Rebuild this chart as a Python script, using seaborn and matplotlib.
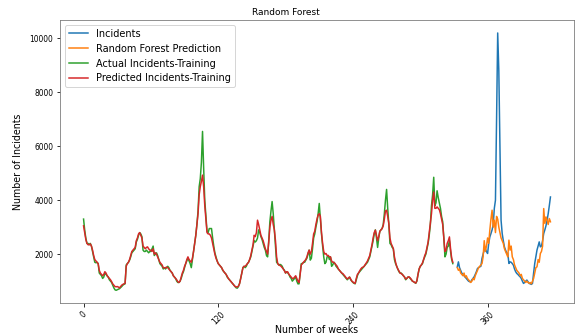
import numpy as np
import matplotlib
matplotlib.use("Agg")
import matplotlib.pyplot as plt
import seaborn as sns

# weekly incident counts
train_start = 0
test_start = 333

actual_train = [
    3300, 2900, 2600, 2400, 2400, 2350, 2400, 2300, 2100, 1900,
    1700, 1680, 1700, 1650, 1300, 1250, 1200, 1100, 1150, 1300,
    1250, 1200, 1150, 1050, 1000, 950, 850, 750, 680, 660,
    680, 700, 720, 760, 800, 850, 880, 900, 1600, 1650,
    1700, 1780, 1900, 2050, 2100, 2150, 2200, 2450, 2550, 2700,
    2800, 2750, 2650, 2150, 2100, 2100, 2150, 2100, 2050, 2100,
    2100, 2200, 2300, 1950, 2000, 2050, 1950, 1800, 1650, 1600,
    1550, 1450, 1500, 1450, 1500, 1550, 1500, 1400, 1350, 1300,
    1200, 1150, 1100, 1000, 950, 950, 1000, 1100, 1250, 1350,
    1500, 1650, 1750, 1850, 1750, 1650, 1500, 1800, 2100, 2400,
    2700, 3100, 3600, 4500, 4800, 5400, 6550, 5200, 4000, 3400,
    2850, 2800, 2950, 2950, 2950, 2600, 2300, 2050, 1900, 1750,
    1650, 1600, 1550, 1500, 1400, 1350, 1300, 1250, 1150, 1100,
    1050, 1000, 950, 900, 850, 800, 750, 740, 800, 920,
    1100, 1300, 1500, 1550, 1500, 1550, 1650, 1700, 1800, 1900,
    2100, 2300, 2500, 2450, 2500, 2600, 2900, 2800, 2650, 2550,
    2400, 2250, 2150, 1950, 1900, 2500, 3200, 3600, 3950, 3500,
    2900, 2300, 1700, 1650, 1600, 1620, 1600, 1550, 1450, 1400,
    1300, 1350, 1300, 1250, 1150, 1100, 1000, 1050, 1100, 1150,
    1000, 900, 900, 1300, 1650, 1650, 1700, 1700, 1780, 1850,
    2000, 2150, 1780, 1850, 2200, 2600, 2750, 3000, 3200, 3500,
    3880, 3300, 2750, 2300, 1900, 1650, 1700, 1900, 1950, 1800,
    1900, 1550, 1600, 1700, 1650, 1550, 1500, 1450, 1400, 1350,
    1300, 1250, 1200, 1150, 1100, 1050, 1100, 1150, 1050, 1000,
    950, 920, 900, 1050, 1200, 1300, 1350, 1400, 1450, 1500,
    1550, 1600, 1650, 1700, 1800, 1900, 2100, 2300, 2500, 2750,
    2900, 2600, 2250, 2600, 2850, 2900, 2950, 3100, 3500, 4000,
    4400, 3700, 3100, 2400, 2350, 2250, 2200, 1800, 1650, 1550,
    1450, 1350, 1300, 1300, 1250, 1200, 1150, 1050, 1100, 1150,
    1150, 1100, 1050, 1000, 980, 950, 920, 1000, 1250, 1450,
    1550, 1600, 1650, 1800, 1900, 2000, 2200, 2400, 2700, 3100,
    3800, 4200, 4850, 3800, 3900, 4350, 4100, 3900, 3700, 3400,
    3200, 2600, 1900, 2000, 2250, 2300, 2500, 2100, 1800, 1650,
]

predicted_train = [
    3050, 2800, 2550, 2400, 2350, 2350, 2380, 2300, 2150, 1950,
    1800, 1750, 1700, 1650, 1400, 1300, 1250, 1200, 1250, 1350,
    1300, 1200, 1150, 1100, 1050, 980, 900, 850, 800, 790,
    800, 780, 750, 800, 850, 880, 900, 920, 1550, 1650,
    1700, 1800, 1950, 2100, 2150, 2200, 2250, 2500, 2600, 2750,
    2800, 2700, 2600, 2300, 2250, 2200, 2250, 2270, 2200, 2150,
    2150, 2100, 2200, 2000, 2050, 2000, 1900, 1800, 1700, 1650,
    1600, 1500, 1480, 1500, 1520, 1500, 1450, 1400, 1350, 1300,
    1200, 1150, 1100, 1050, 980, 950, 1000, 1150, 1300, 1400,
    1550, 1650, 1800, 1900, 1800, 1750, 1700, 1850, 2100, 2400,
    2700, 3100, 3500, 4200, 4500, 4700, 4930, 4500, 3800, 3300,
    2800, 2750, 2750, 2700, 2600, 2400, 2200, 2000, 1850, 1750,
    1650, 1600, 1550, 1500, 1420, 1350, 1300, 1250, 1180, 1100,
    1050, 1000, 950, 900, 850, 800, 790, 780, 820, 900,
    1100, 1300, 1500, 1550, 1550, 1600, 1650, 1700, 1800, 1950,
    2150, 2350, 2700, 2650, 2800, 3260, 3100, 2900, 2700, 2600,
    2500, 2350, 2200, 2100, 2000, 2450, 3000, 3260, 3400, 3100,
    2900, 2500, 1900, 1650, 1600, 1580, 1550, 1500, 1450, 1380,
    1300, 1350, 1340, 1250, 1200, 1150, 1100, 1100, 1150, 1200,
    1100, 1000, 950, 1250, 1600, 1650, 1700, 1750, 1800, 1900,
    2050, 2150, 2000, 2100, 2400, 2750, 2850, 3100, 3300, 3450,
    3500, 3400, 2800, 2400, 2100, 2000, 2025, 1950, 1950, 1900,
    1900, 1750, 1700, 1700, 1650, 1600, 1550, 1450, 1400, 1350,
    1300, 1280, 1230, 1180, 1120, 1080, 1120, 1150, 1080, 1000,
    970, 930, 920, 1100, 1250, 1300, 1380, 1450, 1500, 1520,
    1550, 1620, 1680, 1750, 1850, 1950, 2150, 2350, 2600, 2800,
    2890, 2700, 2500, 2650, 2850, 2900, 2950, 3050, 3300, 3600,
    3630, 3400, 3140, 2600, 2400, 2300, 2210, 1900, 1700, 1550,
    1450, 1380, 1300, 1280, 1250, 1200, 1150, 1080, 1100, 1150,
    1160, 1120, 1070, 1000, 980, 950, 930, 1020, 1250, 1450,
    1550, 1600, 1680, 1800, 1950, 2050, 2250, 2450, 2800, 3140,
    3500, 4000, 4300, 3700, 3700, 3750, 3700, 3650, 3500, 3300,
    3100, 2600, 2100, 2150, 2400, 2500, 2640, 2200, 1850, 1700,
]

incidents_test = [
    1530, 1715, 1500, 1400, 1300, 1250, 1200, 1150, 1100, 1050,
    1000, 980, 975, 1050, 1100, 1160, 1250, 1350, 1470, 1500,
    1530, 1550, 1840, 2000, 2150, 2200, 2100, 2025, 2400, 2640,
    2765, 2900, 3100, 3700, 4000, 7000, 10200, 8800, 6000, 3260,
    2765, 2500, 2270, 2150, 2050, 2025, 1655, 1715, 1700, 1650,
    1590, 1450, 1350, 1285, 1250, 1200, 1160, 1100, 1000, 915,
    950, 1000, 1040, 980, 915, 900, 880, 915, 1300, 1655,
    1900, 2150, 2300, 2455, 2270, 2300, 2500, 2765, 2900, 3050,
    3260, 3500, 3800, 4120,
]

rf_prediction = [
    1500, 1400, 1450, 1300, 1250, 1200, 1300, 1150, 1200, 1100,
    1050, 1000, 950, 1000, 1100, 1050, 1200, 1300, 1400, 1500,
    1550, 1600, 1650, 1900, 2500, 2100, 2300, 2600, 2400, 2900,
    3300, 3630, 3000, 3260, 2800, 3400, 3300, 3000, 2800, 2600,
    2500, 2400, 2200, 2100, 2000, 1900, 2520, 2150, 2300, 1900,
    1800, 1600, 1500, 1400, 1350, 1300, 1200, 1250, 1100, 1050,
    1000, 950, 1000, 950, 920, 950, 900, 1000, 1100, 1300,
    1500, 1530, 1800, 1700, 2025, 2100, 2300, 3690, 3140, 3380,
    3260, 3100, 3320, 3200,
]

train_weeks = np.arange(train_start, train_start + len(actual_train))
test_weeks = np.arange(test_start, test_start + len(incidents_test))

fig, ax = plt.subplots(figsize=(579 / 72, 335 / 72), dpi=72)
fig.subplots_adjust(left=0.104, right=0.991, top=0.94, bottom=0.095)

sns.lineplot(x=test_weeks, y=incidents_test, color="tab:blue", label="Incidents", ax=ax)
sns.lineplot(x=test_weeks, y=rf_prediction, color="tab:orange", label="Random Forest Prediction", ax=ax)
sns.lineplot(x=train_weeks, y=actual_train, color="tab:green", label="Actual Incidents-Training", ax=ax)
sns.lineplot(x=train_weeks, y=predicted_train, color="tab:red", label="Predicted Incidents-Training", ax=ax)

ax.set_title("Random Forest", fontsize=9, x=0.44, pad=5)
ax.set_xlabel("Number of weeks", fontsize=9.5, labelpad=-2)
ax.set_ylabel("Number of Incidents", fontsize=9.5, labelpad=6)
ax.set_xticks([0, 120, 240, 360])
ax.set_yticks([2000, 4000, 6000, 8000, 10000])
ax.tick_params(axis="x", labelrotation=45, labelsize=7.5)
ax.tick_params(axis="y", labelsize=7.5)
for s in ax.spines.values():
    s.set_color("#777777")
ax.legend(loc="upper left", fontsize=9.7)

plt.savefig("out.png", dpi=72)
